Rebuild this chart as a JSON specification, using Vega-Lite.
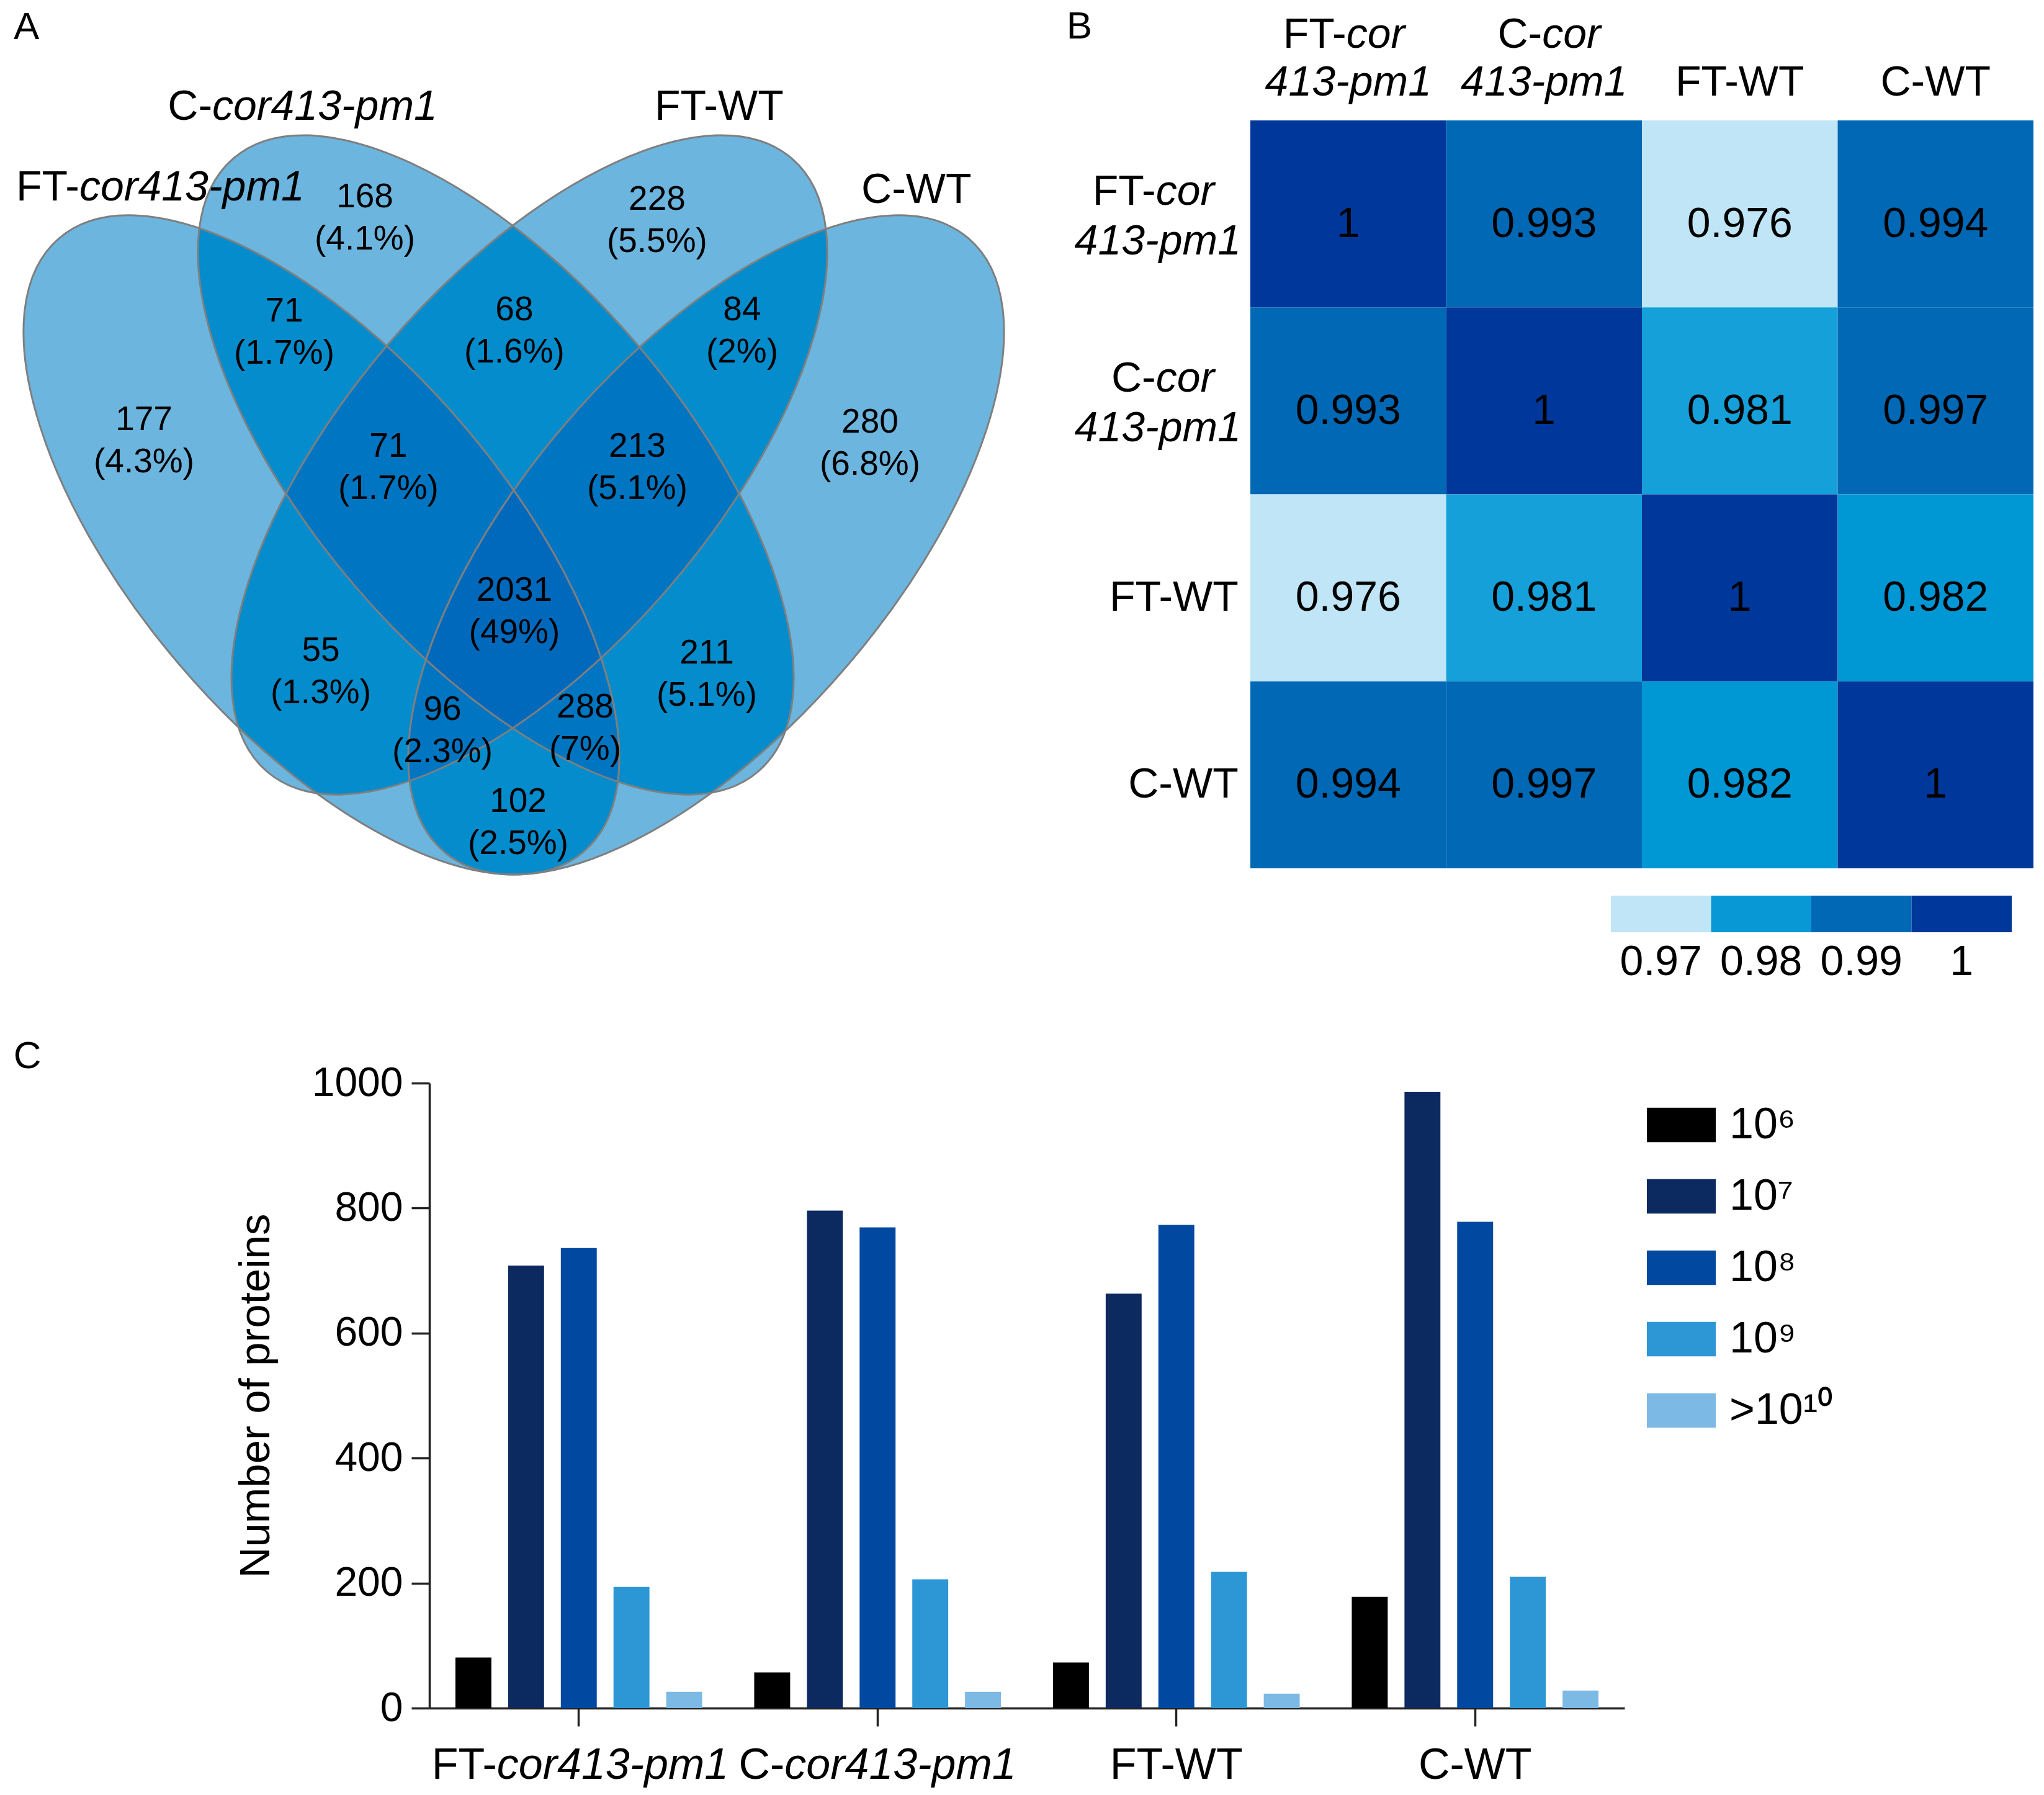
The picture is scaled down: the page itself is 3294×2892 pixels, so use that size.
{
"$schema": "https://vega.github.io/schema/vega-lite/v6.json",
"background": "white",
"padding": 0,
"autosize": {"type": "pad"},
"config": {"view": {"stroke": null}, "font": "Liberation Sans", "text": {"color": "black", "font": "Liberation Sans"}},
"datasets": {
 "sets": [{"set": "FT-cor413-pm1"}, {"set": "C-cor413-pm1"}, {"set": "FT-WT"}, {"set": "C-WT"}],
 "venn": [
  {"region": "FT-cor413-pm1 only", "n": 177, "pct": 4.3},
  {"region": "C-cor413-pm1 only", "n": 168, "pct": 4.1},
  {"region": "FT-WT only", "n": 228, "pct": 5.5},
  {"region": "C-WT only", "n": 280, "pct": 6.8},
  {"region": "FT-cor413-pm1 & C-cor413-pm1", "n": 71, "pct": 1.7},
  {"region": "C-cor413-pm1 & FT-WT", "n": 68, "pct": 1.6},
  {"region": "FT-WT & C-WT", "n": 84, "pct": 2},
  {"region": "FT-cor413-pm1 & C-cor413-pm1 & FT-WT", "n": 71, "pct": 1.7},
  {"region": "C-cor413-pm1 & FT-WT & C-WT", "n": 213, "pct": 5.1},
  {"region": "FT-cor413-pm1 & C-cor413-pm1 & FT-WT & C-WT", "n": 2031, "pct": 49},
  {"region": "FT-cor413-pm1 & FT-WT", "n": 55, "pct": 1.3},
  {"region": "C-cor413-pm1 & C-WT", "n": 211, "pct": 5.1},
  {"region": "FT-cor413-pm1 & FT-WT & C-WT", "n": 96, "pct": 2.3},
  {"region": "FT-cor413-pm1 & C-cor413-pm1 & C-WT", "n": 288, "pct": 7},
  {"region": "FT-cor413-pm1 & C-WT", "n": 102, "pct": 2.5}
 ],
 "heat": [
  {"row": "FT-cor413-pm1", "col": "FT-cor413-pm1", "r": 1},
  {"row": "FT-cor413-pm1", "col": "C-cor413-pm1", "r": 0.993},
  {"row": "FT-cor413-pm1", "col": "FT-WT", "r": 0.976},
  {"row": "FT-cor413-pm1", "col": "C-WT", "r": 0.994},
  {"row": "C-cor413-pm1", "col": "FT-cor413-pm1", "r": 0.993},
  {"row": "C-cor413-pm1", "col": "C-cor413-pm1", "r": 1},
  {"row": "C-cor413-pm1", "col": "FT-WT", "r": 0.981},
  {"row": "C-cor413-pm1", "col": "C-WT", "r": 0.997},
  {"row": "FT-WT", "col": "FT-cor413-pm1", "r": 0.976},
  {"row": "FT-WT", "col": "C-cor413-pm1", "r": 0.981},
  {"row": "FT-WT", "col": "FT-WT", "r": 1},
  {"row": "FT-WT", "col": "C-WT", "r": 0.982},
  {"row": "C-WT", "col": "FT-cor413-pm1", "r": 0.994},
  {"row": "C-WT", "col": "C-cor413-pm1", "r": 0.997},
  {"row": "C-WT", "col": "FT-WT", "r": 0.982},
  {"row": "C-WT", "col": "C-WT", "r": 1}
 ],
 "heatlegend": [{"lab": "0.97", "v": 0.97}, {"lab": "0.98", "v": 0.98}, {"lab": "0.99", "v": 0.99}, {"lab": "1", "v": 1}],
 "bars": [
  {"group": "FT-cor413-pm1", "level": "10⁶", "n": 81},
  {"group": "FT-cor413-pm1", "level": "10⁷", "n": 708},
  {"group": "FT-cor413-pm1", "level": "10⁸", "n": 736},
  {"group": "FT-cor413-pm1", "level": "10⁹", "n": 194},
  {"group": "FT-cor413-pm1", "level": ">10¹⁰", "n": 26},
  {"group": "C-cor413-pm1", "level": "10⁶", "n": 57},
  {"group": "C-cor413-pm1", "level": "10⁷", "n": 796},
  {"group": "C-cor413-pm1", "level": "10⁸", "n": 769},
  {"group": "C-cor413-pm1", "level": "10⁹", "n": 206},
  {"group": "C-cor413-pm1", "level": ">10¹⁰", "n": 26},
  {"group": "FT-WT", "level": "10⁶", "n": 73},
  {"group": "FT-WT", "level": "10⁷", "n": 663},
  {"group": "FT-WT", "level": "10⁸", "n": 773},
  {"group": "FT-WT", "level": "10⁹", "n": 218},
  {"group": "FT-WT", "level": ">10¹⁰", "n": 23},
  {"group": "C-WT", "level": "10⁶", "n": 178},
  {"group": "C-WT", "level": "10⁷", "n": 986},
  {"group": "C-WT", "level": "10⁸", "n": 778},
  {"group": "C-WT", "level": "10⁹", "n": 210},
  {"group": "C-WT", "level": ">10¹⁰", "n": 28}
 ]
},
"bounds": "flush",
"spacing": 1745,
"resolve": {"scale": {"x": "independent", "y": "independent", "color": "independent"}, "legend": {"color": "independent"}},
"vconcat": [
 {
  "bounds": "flush",
  "spacing": 315,
  "resolve": {"scale": {"x": "independent", "y": "independent", "color": "independent"}, "legend": {"color": "independent"}},
  "hconcat": [
   {
    "width": 1700, "height": 1450,
    "data": {"name": "venn"},
    "layer": [
     {"data": {"name": "sets"}, "transform": [{"filter": "datum.set === 'FT-cor413-pm1'"}],
      "mark": {"type": "point", "shape": "M1,0C1,0.2542,0.5523,0.4603,0,0.4603C-0.5523,0.4603,-1,0.2542,-1,0C-1,-0.2542,-0.5523,-0.4603,0,-0.4603C0.5523,-0.4603,1,-0.2542,1,0Z", "size": 1691040, "angle": 49.45, "filled": true, "fill": "#005bb6", "opacity": 0.451, "strokeWidth": 0},
      "encoding": {"x": {"datum": 30.47, "type": "quantitative", "scale": {"domain": [0, 100], "nice": false, "zero": false}, "axis": null}, "y": {"datum": 60.55, "type": "quantitative", "scale": {"domain": [0, 100], "nice": false, "zero": false, "reverse": true}, "axis": null}}},
     {"data": {"name": "sets"}, "transform": [{"filter": "datum.set === 'FT-cor413-pm1'"}],
      "mark": {"type": "point", "shape": "M1,0C1,0.2542,0.5523,0.4603,0,0.4603C-0.5523,0.4603,-1,0.2542,-1,0C-1,-0.2542,-0.5523,-0.4603,0,-0.4603C0.5523,-0.4603,1,-0.2542,1,0Z", "size": 1691040, "angle": 49.45, "filled": true, "fill": "#c8ffff", "opacity": 1, "blend": "color-burn", "strokeWidth": 0},
      "encoding": {"x": {"datum": 30.47, "type": "quantitative"}, "y": {"datum": 60.55, "type": "quantitative"}}},
     {"data": {"name": "sets"}, "transform": [{"filter": "datum.set === 'C-cor413-pm1'"}],
      "mark": {"type": "point", "shape": "M1,0C1,0.2542,0.5523,0.4603,0,0.4603C-0.5523,0.4603,-1,0.2542,-1,0C-1,-0.2542,-0.5523,-0.4603,0,-0.4603C0.5523,-0.4603,1,-0.2542,1,0Z", "size": 1691040, "angle": 49.45, "filled": true, "fill": "#005bb6", "opacity": 0.451, "strokeWidth": 0},
      "encoding": {"x": {"datum": 47.0, "type": "quantitative"}, "y": {"datum": 51.66, "type": "quantitative"}}},
     {"data": {"name": "sets"}, "transform": [{"filter": "datum.set === 'C-cor413-pm1'"}],
      "mark": {"type": "point", "shape": "M1,0C1,0.2542,0.5523,0.4603,0,0.4603C-0.5523,0.4603,-1,0.2542,-1,0C-1,-0.2542,-0.5523,-0.4603,0,-0.4603C0.5523,-0.4603,1,-0.2542,1,0Z", "size": 1691040, "angle": 49.45, "filled": true, "fill": "#c8ffff", "opacity": 1, "blend": "color-burn", "strokeWidth": 0},
      "encoding": {"x": {"datum": 47.0, "type": "quantitative"}, "y": {"datum": 51.66, "type": "quantitative"}}},
     {"data": {"name": "sets"}, "transform": [{"filter": "datum.set === 'FT-WT'"}],
      "mark": {"type": "point", "shape": "M1,0C1,0.2542,0.5523,0.4603,0,0.4603C-0.5523,0.4603,-1,0.2542,-1,0C-1,-0.2542,-0.5523,-0.4603,0,-0.4603C0.5523,-0.4603,1,-0.2542,1,0Z", "size": 1691040, "angle": 310.55, "filled": true, "fill": "#005bb6", "opacity": 0.451, "strokeWidth": 0},
      "encoding": {"x": {"datum": 50.18, "type": "quantitative"}, "y": {"datum": 51.66, "type": "quantitative"}}},
     {"data": {"name": "sets"}, "transform": [{"filter": "datum.set === 'FT-WT'"}],
      "mark": {"type": "point", "shape": "M1,0C1,0.2542,0.5523,0.4603,0,0.4603C-0.5523,0.4603,-1,0.2542,-1,0C-1,-0.2542,-0.5523,-0.4603,0,-0.4603C0.5523,-0.4603,1,-0.2542,1,0Z", "size": 1691040, "angle": 310.55, "filled": true, "fill": "#c8ffff", "opacity": 1, "blend": "color-burn", "strokeWidth": 0},
      "encoding": {"x": {"datum": 50.18, "type": "quantitative"}, "y": {"datum": 51.66, "type": "quantitative"}}},
     {"data": {"name": "sets"}, "transform": [{"filter": "datum.set === 'C-WT'"}],
      "mark": {"type": "point", "shape": "M1,0C1,0.2542,0.5523,0.4603,0,0.4603C-0.5523,0.4603,-1,0.2542,-1,0C-1,-0.2542,-0.5523,-0.4603,0,-0.4603C0.5523,-0.4603,1,-0.2542,1,0Z", "size": 1691040, "angle": 310.55, "filled": true, "fill": "#005bb6", "opacity": 0.451, "strokeWidth": 0},
      "encoding": {"x": {"datum": 66.94, "type": "quantitative"}, "y": {"datum": 60.55, "type": "quantitative"}}},
     {"data": {"name": "sets"}, "transform": [{"filter": "datum.set === 'C-WT'"}],
      "mark": {"type": "point", "shape": "M1,0C1,0.2542,0.5523,0.4603,0,0.4603C-0.5523,0.4603,-1,0.2542,-1,0C-1,-0.2542,-0.5523,-0.4603,0,-0.4603C0.5523,-0.4603,1,-0.2542,1,0Z", "size": 1691040, "angle": 310.55, "filled": true, "fill": "#c8ffff", "opacity": 1, "blend": "color-burn", "strokeWidth": 0},
      "encoding": {"x": {"datum": 66.94, "type": "quantitative"}, "y": {"datum": 60.55, "type": "quantitative"}}},
     {"data": {"name": "sets"}, "transform": [{"filter": "datum.set === 'FT-cor413-pm1'"}],
      "mark": {"type": "point", "shape": "M1,0C1,0.2542,0.5523,0.4603,0,0.4603C-0.5523,0.4603,-1,0.2542,-1,0C-1,-0.2542,-0.5523,-0.4603,0,-0.4603C0.5523,-0.4603,1,-0.2542,1,0Z", "size": 1691040, "angle": 49.45, "filled": false, "stroke": "#7f7f7f", "strokeWidth": 3, "opacity": 1},
      "encoding": {"x": {"datum": 30.47, "type": "quantitative"}, "y": {"datum": 60.55, "type": "quantitative"}}},
     {"data": {"name": "sets"}, "transform": [{"filter": "datum.set === 'C-cor413-pm1'"}],
      "mark": {"type": "point", "shape": "M1,0C1,0.2542,0.5523,0.4603,0,0.4603C-0.5523,0.4603,-1,0.2542,-1,0C-1,-0.2542,-0.5523,-0.4603,0,-0.4603C0.5523,-0.4603,1,-0.2542,1,0Z", "size": 1691040, "angle": 49.45, "filled": false, "stroke": "#7f7f7f", "strokeWidth": 3, "opacity": 1},
      "encoding": {"x": {"datum": 47.0, "type": "quantitative"}, "y": {"datum": 51.66, "type": "quantitative"}}},
     {"data": {"name": "sets"}, "transform": [{"filter": "datum.set === 'FT-WT'"}],
      "mark": {"type": "point", "shape": "M1,0C1,0.2542,0.5523,0.4603,0,0.4603C-0.5523,0.4603,-1,0.2542,-1,0C-1,-0.2542,-0.5523,-0.4603,0,-0.4603C0.5523,-0.4603,1,-0.2542,1,0Z", "size": 1691040, "angle": 310.55, "filled": false, "stroke": "#7f7f7f", "strokeWidth": 3, "opacity": 1},
      "encoding": {"x": {"datum": 50.18, "type": "quantitative"}, "y": {"datum": 51.66, "type": "quantitative"}}},
     {"data": {"name": "sets"}, "transform": [{"filter": "datum.set === 'C-WT'"}],
      "mark": {"type": "point", "shape": "M1,0C1,0.2542,0.5523,0.4603,0,0.4603C-0.5523,0.4603,-1,0.2542,-1,0C-1,-0.2542,-0.5523,-0.4603,0,-0.4603C0.5523,-0.4603,1,-0.2542,1,0Z", "size": 1691040, "angle": 310.55, "filled": false, "stroke": "#7f7f7f", "strokeWidth": 3, "opacity": 1},
      "encoding": {"x": {"datum": 66.94, "type": "quantitative"}, "y": {"datum": 60.55, "type": "quantitative"}}},

     {"data": {"name": "sets"}, "transform": [{"filter": "datum.set === 'FT-cor413-pm1'"}, {"calculate": "replace(datum.set, 'cor413-pm1', '')", "as": "pre"}],
      "mark": {"type": "text", "fontSize": 68, "align": "right", "baseline": "alphabetic"},
      "encoding": {"x": {"datum": 7.53, "type": "quantitative"}, "y": {"datum": 22.28, "type": "quantitative"}, "text": {"field": "pre"}}},
     {"data": {"name": "sets"}, "transform": [{"filter": "datum.set === 'FT-cor413-pm1'"}, {"calculate": "slice(datum.set, indexof(datum.set, 'cor'))", "as": "ital"}],
      "mark": {"type": "text", "fontSize": 68, "align": "left", "baseline": "alphabetic", "fontStyle": "italic"},
      "encoding": {"x": {"datum": 7.53, "type": "quantitative"}, "y": {"datum": 22.28, "type": "quantitative"}, "text": {"field": "ital"}}},
     {"data": {"name": "sets"}, "transform": [{"filter": "datum.set === 'C-cor413-pm1'"}, {"calculate": "replace(datum.set, 'cor413-pm1', '')", "as": "pre"}],
      "mark": {"type": "text", "fontSize": 68, "align": "right", "baseline": "alphabetic"},
      "encoding": {"x": {"datum": 20.12, "type": "quantitative"}, "y": {"datum": 13.31, "type": "quantitative"}, "text": {"field": "pre"}}},
     {"data": {"name": "sets"}, "transform": [{"filter": "datum.set === 'C-cor413-pm1'"}, {"calculate": "slice(datum.set, indexof(datum.set, 'cor'))", "as": "ital"}],
      "mark": {"type": "text", "fontSize": 68, "align": "left", "baseline": "alphabetic", "fontStyle": "italic"},
      "encoding": {"x": {"datum": 20.12, "type": "quantitative"}, "y": {"datum": 13.31, "type": "quantitative"}, "text": {"field": "ital"}}},
     {"data": {"name": "sets"}, "transform": [{"filter": "datum.set === 'FT-WT'"}],
      "mark": {"type": "text", "fontSize": 68, "align": "left", "baseline": "alphabetic"},
      "encoding": {"x": {"datum": 62.06, "type": "quantitative"}, "y": {"datum": 13.31, "type": "quantitative"}, "text": {"field": "set"}}},
     {"data": {"name": "sets"}, "transform": [{"filter": "datum.set === 'C-WT'"}],
      "mark": {"type": "text", "fontSize": 68, "align": "left", "baseline": "alphabetic"},
      "encoding": {"x": {"datum": 81.65, "type": "quantitative"}, "y": {"datum": 22.55, "type": "quantitative"}, "text": {"field": "set"}}},
     {"data": {"name": "sets"}, "transform": [{"filter": "datum.set === 'FT-cor413-pm1'"}],
      "mark": {"type": "text", "fontSize": 62, "align": "left", "baseline": "alphabetic", "text": "A"},
      "encoding": {"x": {"datum": 1.29, "type": "quantitative"}, "y": {"datum": 4.34, "type": "quantitative"}}},

     {"transform": [{"filter": "datum.region === 'FT-cor413-pm1 only'"}, {"calculate": "datum.n + '\\n(' + datum.pct + '%)'", "as": "label"}],
      "mark": {"type": "text", "fontSize": 55, "lineBreak": "\n", "lineHeight": 68, "baseline": "middle", "align": "center", "dy": -34},
      "encoding": {"x": {"datum": 13.65, "type": "quantitative"}, "y": {"datum": 48.97, "type": "quantitative"}, "text": {"field": "label"}}},
     {"transform": [{"filter": "datum.region === 'C-cor413-pm1 only'"}, {"calculate": "datum.n + '\\n(' + datum.pct + '%)'", "as": "label"}],
      "mark": {"type": "text", "fontSize": 55, "lineBreak": "\n", "lineHeight": 68, "baseline": "middle", "align": "center", "dy": -34},
      "encoding": {"x": {"datum": 34.59, "type": "quantitative"}, "y": {"datum": 24.21, "type": "quantitative"}, "text": {"field": "label"}}},
     {"transform": [{"filter": "datum.region === 'FT-WT only'"}, {"calculate": "datum.n + '\\n(' + datum.pct + '%)'", "as": "label"}],
      "mark": {"type": "text", "fontSize": 55, "lineBreak": "\n", "lineHeight": 68, "baseline": "middle", "align": "center", "dy": -34},
      "encoding": {"x": {"datum": 62.29, "type": "quantitative"}, "y": {"datum": 24.48, "type": "quantitative"}, "text": {"field": "label"}}},
     {"transform": [{"filter": "datum.region === 'C-WT only'"}, {"calculate": "datum.n + '\\n(' + datum.pct + '%)'", "as": "label"}],
      "mark": {"type": "text", "fontSize": 55, "lineBreak": "\n", "lineHeight": 68, "baseline": "middle", "align": "center", "dy": -34},
      "encoding": {"x": {"datum": 82.47, "type": "quantitative"}, "y": {"datum": 49.24, "type": "quantitative"}, "text": {"field": "label"}}},
     {"transform": [{"filter": "datum.region === 'FT-cor413-pm1 & C-cor413-pm1'"}, {"calculate": "datum.n + '\\n(' + datum.pct + '%)'", "as": "label"}],
      "mark": {"type": "text", "fontSize": 55, "lineBreak": "\n", "lineHeight": 68, "baseline": "middle", "align": "center", "dy": -34},
      "encoding": {"x": {"datum": 26.94, "type": "quantitative"}, "y": {"datum": 36.9, "type": "quantitative"}, "text": {"field": "label"}}},
     {"transform": [{"filter": "datum.region === 'C-cor413-pm1 & FT-WT'"}, {"calculate": "datum.n + '\\n(' + datum.pct + '%)'", "as": "label"}],
      "mark": {"type": "text", "fontSize": 55, "lineBreak": "\n", "lineHeight": 68, "baseline": "middle", "align": "center", "dy": -34},
      "encoding": {"x": {"datum": 48.76, "type": "quantitative"}, "y": {"datum": 36.76, "type": "quantitative"}, "text": {"field": "label"}}},
     {"transform": [{"filter": "datum.region === 'FT-WT & C-WT'"}, {"calculate": "datum.n + '\\n(' + datum.pct + '%)'", "as": "label"}],
      "mark": {"type": "text", "fontSize": 55, "lineBreak": "\n", "lineHeight": 68, "baseline": "middle", "align": "center", "dy": -34},
      "encoding": {"x": {"datum": 70.35, "type": "quantitative"}, "y": {"datum": 36.76, "type": "quantitative"}, "text": {"field": "label"}}},
     {"transform": [{"filter": "datum.region === 'FT-cor413-pm1 & C-cor413-pm1 & FT-WT'"}, {"calculate": "datum.n + '\\n(' + datum.pct + '%)'", "as": "label"}],
      "mark": {"type": "text", "fontSize": 55, "lineBreak": "\n", "lineHeight": 68, "baseline": "middle", "align": "center", "dy": -34},
      "encoding": {"x": {"datum": 36.82, "type": "quantitative"}, "y": {"datum": 51.93, "type": "quantitative"}, "text": {"field": "label"}}},
     {"transform": [{"filter": "datum.region === 'C-cor413-pm1 & FT-WT & C-WT'"}, {"calculate": "datum.n + '\\n(' + datum.pct + '%)'", "as": "label"}],
      "mark": {"type": "text", "fontSize": 55, "lineBreak": "\n", "lineHeight": 68, "baseline": "middle", "align": "center", "dy": -34},
      "encoding": {"x": {"datum": 60.41, "type": "quantitative"}, "y": {"datum": 51.93, "type": "quantitative"}, "text": {"field": "label"}}},
     {"transform": [{"filter": "datum.region === 'FT-cor413-pm1 & C-cor413-pm1 & FT-WT & C-WT'"}, {"calculate": "datum.n + '\\n(' + datum.pct + '%)'", "as": "label"}],
      "mark": {"type": "text", "fontSize": 55, "lineBreak": "\n", "lineHeight": 68, "baseline": "middle", "align": "center", "dy": -34},
      "encoding": {"x": {"datum": 48.76, "type": "quantitative"}, "y": {"datum": 67.93, "type": "quantitative"}, "text": {"field": "label"}}},
     {"transform": [{"filter": "datum.region === 'FT-cor413-pm1 & FT-WT'"}, {"calculate": "datum.n + '\\n(' + datum.pct + '%)'", "as": "label"}],
      "mark": {"type": "text", "fontSize": 55, "lineBreak": "\n", "lineHeight": 68, "baseline": "middle", "align": "center", "dy": -34},
      "encoding": {"x": {"datum": 30.41, "type": "quantitative"}, "y": {"datum": 74.62, "type": "quantitative"}, "text": {"field": "label"}}},
     {"transform": [{"filter": "datum.region === 'C-cor413-pm1 & C-WT'"}, {"calculate": "datum.n + '\\n(' + datum.pct + '%)'", "as": "label"}],
      "mark": {"type": "text", "fontSize": 55, "lineBreak": "\n", "lineHeight": 68, "baseline": "middle", "align": "center", "dy": -34},
      "encoding": {"x": {"datum": 67.0, "type": "quantitative"}, "y": {"datum": 74.9, "type": "quantitative"}, "text": {"field": "label"}}},
     {"transform": [{"filter": "datum.region === 'FT-cor413-pm1 & FT-WT & C-WT'"}, {"calculate": "datum.n + '\\n(' + datum.pct + '%)'", "as": "label"}],
      "mark": {"type": "text", "fontSize": 55, "lineBreak": "\n", "lineHeight": 68, "baseline": "middle", "align": "center", "dy": -34},
      "encoding": {"x": {"datum": 41.94, "type": "quantitative"}, "y": {"datum": 81.17, "type": "quantitative"}, "text": {"field": "label"}}},
     {"transform": [{"filter": "datum.region === 'FT-cor413-pm1 & C-cor413-pm1 & C-WT'"}, {"calculate": "datum.n + '\\n(' + datum.pct + '%)'", "as": "label"}],
      "mark": {"type": "text", "fontSize": 55, "lineBreak": "\n", "lineHeight": 68, "baseline": "middle", "align": "center", "dy": -34},
      "encoding": {"x": {"datum": 55.47, "type": "quantitative"}, "y": {"datum": 80.9, "type": "quantitative"}, "text": {"field": "label"}}},
     {"transform": [{"filter": "datum.region === 'FT-cor413-pm1 & C-WT'"}, {"calculate": "datum.n + '\\n(' + datum.pct + '%)'", "as": "label"}],
      "mark": {"type": "text", "fontSize": 55, "lineBreak": "\n", "lineHeight": 68, "baseline": "middle", "align": "center", "dy": -34},
      "encoding": {"x": {"datum": 49.12, "type": "quantitative"}, "y": {"datum": 91.38, "type": "quantitative"}, "text": {"field": "label"}}}
    ]
   },
   {
    "bounds": "flush",
    "spacing": 44,
    "resolve": {"scale": {"x": "independent", "y": "independent", "color": "independent"}, "legend": {"color": "independent"}},
    "vconcat": [
     {
      "width": 1262, "height": 150,
      "data": {"name": "heat"},
      "transform": [{"filter": "datum.row === 'FT-cor413-pm1'"}],
      "encoding": {"x": {"field": "col", "type": "nominal", "sort": ["FT-cor413-pm1", "C-cor413-pm1", "FT-WT", "C-WT"], "scale": {"domain": ["FT-cor413-pm1", "C-cor413-pm1", "FT-WT", "C-WT"], "paddingInner": 0, "paddingOuter": 0}, "axis": null}},
      "layer": [
       {"transform": [{"filter": "test(/cor/, datum.col)"}, {"calculate": "replace(datum.col, 'cor413-pm1', '')", "as": "pre"}],
        "mark": {"type": "text", "fontSize": 68, "align": "right", "baseline": "alphabetic", "dx": -3, "dy": 2},
        "encoding": {"text": {"field": "pre"}}},
       {"transform": [{"filter": "test(/cor/, datum.col)"}, {"calculate": "slice(datum.col, indexof(datum.col, 'cor'), indexof(datum.col, 'cor') + 3)", "as": "ital"}],
        "mark": {"type": "text", "fontSize": 68, "align": "left", "baseline": "alphabetic", "fontStyle": "italic", "dx": -3, "dy": 2},
        "encoding": {"text": {"field": "ital"}}},
       {"transform": [{"filter": "test(/cor/, datum.col)"}, {"calculate": "slice(datum.col, indexof(datum.col, 'cor') + 3)", "as": "line2"}],
        "mark": {"type": "text", "fontSize": 68, "align": "center", "baseline": "alphabetic", "fontStyle": "italic", "dy": 79},
        "encoding": {"text": {"field": "line2"}}},
       {"transform": [{"filter": "!test(/cor/, datum.col)"}],
        "mark": {"type": "text", "fontSize": 68, "align": "center", "baseline": "alphabetic", "dy": 79},
        "encoding": {"text": {"field": "col"}}},
       {"transform": [{"filter": "datum.col === 'FT-cor413-pm1'"}],
        "mark": {"type": "text", "fontSize": 62, "align": "left", "baseline": "alphabetic", "dx": -454, "dy": -13, "text": "B"}}
      ]
     },
     {
      "width": 1262, "height": 1205,
      "data": {"name": "heat"},
      "encoding": {
       "x": {"field": "col", "type": "nominal", "sort": ["FT-cor413-pm1", "C-cor413-pm1", "FT-WT", "C-WT"], "scale": {"domain": ["FT-cor413-pm1", "C-cor413-pm1", "FT-WT", "C-WT"], "paddingInner": 0, "paddingOuter": 0}, "axis": null},
       "y": {"field": "row", "type": "nominal", "sort": ["FT-cor413-pm1", "C-cor413-pm1", "FT-WT", "C-WT"], "scale": {"domain": ["FT-cor413-pm1", "C-cor413-pm1", "FT-WT", "C-WT"], "paddingInner": 0, "paddingOuter": 0}, "axis": null}
      },
      "layer": [
       {"mark": {"type": "rect", "strokeWidth": 0},
        "encoding": {"color": {"field": "r", "type": "quantitative", "scale": {"type": "threshold", "domain": [0.98, 0.9805, 0.9815, 0.99, 0.9999], "range": ["#c0e5f7", "#0998d6", "#15a0d9", "#0097d5", "#0068b4", "#00379a"]}, "legend": null}}},
       {"mark": {"type": "text", "fontSize": 68, "align": "center", "baseline": "alphabetic", "dy": 37},
        "encoding": {"text": {"field": "r", "type": "quantitative", "format": ".3~f"}}},
       {"transform": [{"filter": "datum.col === 'FT-cor413-pm1' && test(/cor/, datum.row)"}, {"calculate": "replace(datum.row, 'cor413-pm1', '')", "as": "pre"}],
        "mark": {"type": "text", "fontSize": 68, "align": "right", "baseline": "alphabetic", "dx": -310, "dy": -15},
        "encoding": {"text": {"field": "pre"}}},
       {"transform": [{"filter": "datum.col === 'FT-cor413-pm1' && test(/cor/, datum.row)"}, {"calculate": "slice(datum.row, indexof(datum.row, 'cor'), indexof(datum.row, 'cor') + 3)", "as": "ital"}],
        "mark": {"type": "text", "fontSize": 68, "align": "left", "baseline": "alphabetic", "fontStyle": "italic", "dx": -310, "dy": -15},
        "encoding": {"text": {"field": "ital"}}},
       {"transform": [{"filter": "datum.col === 'FT-cor413-pm1' && test(/cor/, datum.row)"}, {"calculate": "slice(datum.row, indexof(datum.row, 'cor') + 3)", "as": "line2"}],
        "mark": {"type": "text", "fontSize": 68, "align": "center", "baseline": "alphabetic", "fontStyle": "italic", "dx": -307, "dy": 65},
        "encoding": {"text": {"field": "line2"}}},
       {"transform": [{"filter": "datum.col === 'FT-cor413-pm1' && !test(/cor/, datum.row)"}],
        "mark": {"type": "text", "fontSize": 68, "align": "right", "baseline": "alphabetic", "dx": -177, "dy": 37},
        "encoding": {"text": {"field": "row"}}}
      ]
     },
     {
      "bounds": "flush",
      "spacing": 580,
      "resolve": {"scale": {"x": "independent", "y": "independent", "color": "independent"}, "legend": {"color": "independent"}},
      "hconcat": [
       {"width": 1, "height": 1, "data": {"values": []}, "mark": "point", "encoding": {}},
       {
        "width": 646, "height": 59,
        "data": {"name": "heatlegend"},
        "encoding": {"x": {"field": "lab", "type": "nominal", "sort": ["0.97", "0.98", "0.99", "1"], "scale": {"domain": ["0.97", "0.98", "0.99", "1"], "paddingInner": 0, "paddingOuter": 0}, "axis": null}},
        "layer": [
         {"mark": {"type": "rect", "strokeWidth": 0},
          "encoding": {"color": {"field": "v", "type": "quantitative", "scale": {"type": "threshold", "domain": [0.98, 0.99, 0.9999], "range": ["#c0e5f7", "#0998d6", "#0068b4", "#00379a"]}, "legend": null}}},
         {"mark": {"type": "text", "fontSize": 68, "align": "center", "baseline": "alphabetic", "dy": 98},
          "encoding": {"text": {"field": "lab"}}}
        ]
       }
      ]
     }
    ]
   }
  ]
 },
 {
  "bounds": "flush",
  "spacing": 691,
  "resolve": {"scale": {"x": "independent", "y": "independent", "color": "independent"}, "legend": {"color": "independent"}},
  "hconcat": [
   {"width": 1, "height": 1, "data": {"values": []}, "mark": "point", "encoding": {}},
   {
    "width": 1926, "height": 1007,
    "data": {"name": "bars"},
    "layer": [
     {"mark": {"type": "bar"},
      "encoding": {
       "x": {"field": "group", "type": "nominal", "sort": ["FT-cor413-pm1", "C-cor413-pm1", "FT-WT", "C-WT"], "scale": {"domain": ["FT-cor413-pm1", "C-cor413-pm1", "FT-WT", "C-WT"], "paddingInner": 0, "paddingOuter": 0}, "axis": {"title": null, "labels": false, "tickSize": 29, "tickWidth": 3.5, "domainWidth": 3.5, "domainColor": "#222222", "tickColor": "#222222"}},
       "xOffset": {"field": "level", "type": "nominal", "sort": ["10⁶", "10⁷", "10⁸", "10⁹", ">10¹⁰"], "scale": {"domain": ["10⁶", "10⁷", "10⁸", "10⁹", ">10¹⁰"], "paddingInner": 0.318, "paddingOuter": 0.494}},
       "y": {"field": "n", "type": "quantitative", "scale": {"domain": [0, 1000], "nice": false}, "axis": {"title": "Number of proteins", "values": [0, 200, 400, 600, 800, 1000], "format": "d", "grid": false, "tickSize": 29, "tickWidth": 3.5, "domainWidth": 3.5, "domainColor": "#222222", "tickColor": "#222222", "labelFontSize": 66, "labelColor": "black", "labelPadding": 14, "titleFontSize": 69, "titleFontWeight": "normal", "titleColor": "black", "titlePadding": 55}},
       "color": {"field": "level", "type": "nominal", "sort": ["10⁶", "10⁷", "10⁸", "10⁹", ">10¹⁰"], "scale": {"domain": ["10⁶", "10⁷", "10⁸", "10⁹", ">10¹⁰"], "range": ["#000000", "#0c2a5f", "#0048a0", "#2d97d5", "#7db9e5"]}, "legend": {"title": null, "orient": "right", "offset": 24, "padding": 12, "symbolType": "M-1,-0.5H1V0.5H-1Z", "symbolSize": 12321, "symbolStrokeWidth": 0, "symbolOpacity": 1, "labelFontSize": 70, "labelOffset": 22, "labelLimit": 500, "rowPadding": 24, "labelColor": "black"}}
      }},
     {"transform": [{"filter": "datum.level === '10⁶' && datum.group === 'FT-cor413-pm1'"}, {"calculate": "replace(datum.group, 'cor413-pm1', '')", "as": "pre"}],
      "mark": {"type": "text", "fontSize": 70, "align": "right", "baseline": "alphabetic", "dx": -132, "dy": 114},
      "encoding": {"x": {"field": "group", "type": "nominal", "title": null}, "y": {"datum": 0, "type": "quantitative"}, "text": {"field": "pre"}}},
     {"transform": [{"filter": "datum.level === '10⁶' && datum.group === 'FT-cor413-pm1'"}, {"calculate": "slice(datum.group, indexof(datum.group, 'cor'))", "as": "ital"}],
      "mark": {"type": "text", "fontSize": 70, "align": "left", "baseline": "alphabetic", "fontStyle": "italic", "dx": -132, "dy": 114},
      "encoding": {"x": {"field": "group", "type": "nominal", "title": null}, "y": {"datum": 0, "type": "quantitative"}, "text": {"field": "ital"}}},
     {"transform": [{"filter": "datum.level === '10⁶' && datum.group === 'C-cor413-pm1'"}, {"calculate": "replace(datum.group, 'cor413-pm1', '')", "as": "pre"}],
      "mark": {"type": "text", "fontSize": 70, "align": "right", "baseline": "alphabetic", "dx": -150, "dy": 114},
      "encoding": {"x": {"field": "group", "type": "nominal", "title": null}, "y": {"datum": 0, "type": "quantitative"}, "text": {"field": "pre"}}},
     {"transform": [{"filter": "datum.level === '10⁶' && datum.group === 'C-cor413-pm1'"}, {"calculate": "slice(datum.group, indexof(datum.group, 'cor'))", "as": "ital"}],
      "mark": {"type": "text", "fontSize": 70, "align": "left", "baseline": "alphabetic", "fontStyle": "italic", "dx": -150, "dy": 114},
      "encoding": {"x": {"field": "group", "type": "nominal", "title": null}, "y": {"datum": 0, "type": "quantitative"}, "text": {"field": "ital"}}},
     {"transform": [{"filter": "datum.level === '10⁶' && !test(/cor/, datum.group)"}],
      "mark": {"type": "text", "fontSize": 70, "align": "center", "baseline": "alphabetic", "dy": 114},
      "encoding": {"x": {"field": "group", "type": "nominal", "title": null}, "y": {"datum": 0, "type": "quantitative"}, "text": {"field": "group"}}},
     {"transform": [{"filter": "datum.level === '10⁶' && datum.group === 'FT-cor413-pm1'"}],
      "mark": {"type": "text", "fontSize": 62, "align": "left", "baseline": "alphabetic", "dx": -911, "dy": -24, "text": "C"},
      "encoding": {"x": {"field": "group", "type": "nominal", "title": null}, "y": {"datum": 1000, "type": "quantitative"}}}
    ]
   }
  ]
 }
]
}
